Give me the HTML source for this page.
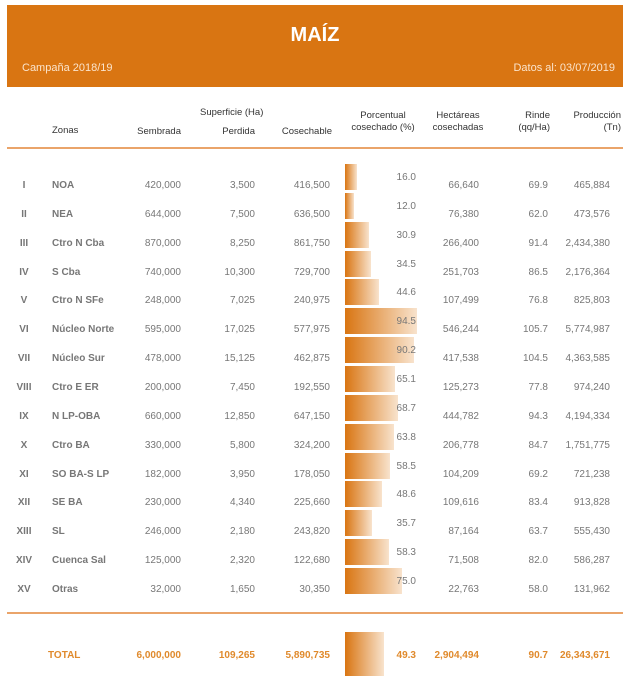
<!DOCTYPE html>
<html><head><meta charset="utf-8"><style>
body{margin:0;width:630px;height:676px;background:#fff;font-family:"Liberation Sans",Arial,sans-serif;position:relative;overflow:hidden}
.hd{position:absolute;left:7px;top:5px;width:616px;height:82px;background:#d97512;color:#fff}
.t{position:absolute;left:0;width:616px;top:19px;text-align:center;font-size:20px;font-weight:bold}
.c{position:absolute;left:15px;top:57px;font-size:11px;color:#fbe4cc}
.d{position:absolute;right:8px;top:57px;font-size:11px;color:#fbe4cc}
.h{position:absolute;font-size:9.5px;color:#333;line-height:12px}
.line{position:absolute;left:7px;width:616px;height:2px;background:#eaa46a}
.r{position:absolute;left:0;width:630px;height:26px;font-size:10px;color:#777;line-height:12px}
.r span{position:absolute;top:16px;white-space:nowrap}
.rn{left:10px;width:28px;text-align:center;font-weight:bold}
.z{left:52px;font-weight:bold}
.a{right:449px}.b{right:375px}.cc{right:300px}.p{right:214px;top:8px!important}.e{right:151px}.f{right:82px}.g{right:20px}
.bar{position:absolute;left:345px;top:0;height:26px;background:linear-gradient(to right,#d97512,#f8e3cd)}
.tot{color:#e08a2c!important;font-weight:bold}
</style></head><body>
<div class="hd"><div class="t">MAÍZ</div><div class="c">Campaña 2018/19</div><div class="d">Datos al: 03/07/2019</div></div>
<div class="h" style="left:52px;top:125px">Zonas</div>
<div class="h" style="right:449px;top:126px">Sembrada</div>
<div class="h" style="left:200px;top:107px">Superficie (Ha)</div>
<div class="h" style="right:375px;top:126px">Perdida</div>
<div class="h" style="right:298px;top:126px">Cosechable</div>
<div class="h" style="left:350px;top:110px;text-align:center;width:66px">Porcentual<br>cosechado (%)</div>
<div class="h" style="left:432px;top:110px;text-align:center;width:52px">Hectáreas<br>cosechadas</div>
<div class="h" style="right:80px;top:110px;text-align:right">Rinde<br>(qq/Ha)</div>
<div class="h" style="right:9px;top:110px;text-align:right">Producción<br>(Tn)</div>
<div class="line" style="top:147px"></div>

<div class="r" style="top:164px"><div class="bar" style="width:12px"></div><span class="rn">I</span><span class="z">NOA</span><span class="a">420,000</span><span class="b">3,500</span><span class="cc">416,500</span><span class="p">16.0</span><span class="e">66,640</span><span class="f">69.9</span><span class="g">465,884</span></div>
<div class="r" style="top:193px"><div class="bar" style="width:9px"></div><span class="rn">II</span><span class="z">NEA</span><span class="a">644,000</span><span class="b">7,500</span><span class="cc">636,500</span><span class="p">12.0</span><span class="e">76,380</span><span class="f">62.0</span><span class="g">473,576</span></div>
<div class="r" style="top:222px"><div class="bar" style="width:24px"></div><span class="rn">III</span><span class="z">Ctro N Cba</span><span class="a">870,000</span><span class="b">8,250</span><span class="cc">861,750</span><span class="p">30.9</span><span class="e">266,400</span><span class="f">91.4</span><span class="g">2,434,380</span></div>
<div class="r" style="top:251px"><div class="bar" style="width:26px"></div><span class="rn">IV</span><span class="z">S Cba</span><span class="a">740,000</span><span class="b">10,300</span><span class="cc">729,700</span><span class="p">34.5</span><span class="e">251,703</span><span class="f">86.5</span><span class="g">2,176,364</span></div>
<div class="r" style="top:279px"><div class="bar" style="width:34px"></div><span class="rn">V</span><span class="z">Ctro N SFe</span><span class="a">248,000</span><span class="b">7,025</span><span class="cc">240,975</span><span class="p">44.6</span><span class="e">107,499</span><span class="f">76.8</span><span class="g">825,803</span></div>
<div class="r" style="top:308px"><div class="bar" style="width:72px"></div><span class="rn">VI</span><span class="z">Núcleo Norte</span><span class="a">595,000</span><span class="b">17,025</span><span class="cc">577,975</span><span class="p">94.5</span><span class="e">546,244</span><span class="f">105.7</span><span class="g">5,774,987</span></div>
<div class="r" style="top:337px"><div class="bar" style="width:69px"></div><span class="rn">VII</span><span class="z">Núcleo Sur</span><span class="a">478,000</span><span class="b">15,125</span><span class="cc">462,875</span><span class="p">90.2</span><span class="e">417,538</span><span class="f">104.5</span><span class="g">4,363,585</span></div>
<div class="r" style="top:366px"><div class="bar" style="width:50px"></div><span class="rn">VIII</span><span class="z">Ctro E ER</span><span class="a">200,000</span><span class="b">7,450</span><span class="cc">192,550</span><span class="p">65.1</span><span class="e">125,273</span><span class="f">77.8</span><span class="g">974,240</span></div>
<div class="r" style="top:395px"><div class="bar" style="width:53px"></div><span class="rn">IX</span><span class="z">N LP-OBA</span><span class="a">660,000</span><span class="b">12,850</span><span class="cc">647,150</span><span class="p">68.7</span><span class="e">444,782</span><span class="f">94.3</span><span class="g">4,194,334</span></div>
<div class="r" style="top:424px"><div class="bar" style="width:49px"></div><span class="rn">X</span><span class="z">Ctro BA</span><span class="a">330,000</span><span class="b">5,800</span><span class="cc">324,200</span><span class="p">63.8</span><span class="e">206,778</span><span class="f">84.7</span><span class="g">1,751,775</span></div>
<div class="r" style="top:453px"><div class="bar" style="width:45px"></div><span class="rn">XI</span><span class="z">SO BA-S LP</span><span class="a">182,000</span><span class="b">3,950</span><span class="cc">178,050</span><span class="p">58.5</span><span class="e">104,209</span><span class="f">69.2</span><span class="g">721,238</span></div>
<div class="r" style="top:481px"><div class="bar" style="width:37px"></div><span class="rn">XII</span><span class="z">SE BA</span><span class="a">230,000</span><span class="b">4,340</span><span class="cc">225,660</span><span class="p">48.6</span><span class="e">109,616</span><span class="f">83.4</span><span class="g">913,828</span></div>
<div class="r" style="top:510px"><div class="bar" style="width:27px"></div><span class="rn">XIII</span><span class="z">SL</span><span class="a">246,000</span><span class="b">2,180</span><span class="cc">243,820</span><span class="p">35.7</span><span class="e">87,164</span><span class="f">63.7</span><span class="g">555,430</span></div>
<div class="r" style="top:539px"><div class="bar" style="width:44px"></div><span class="rn">XIV</span><span class="z">Cuenca Sal</span><span class="a">125,000</span><span class="b">2,320</span><span class="cc">122,680</span><span class="p">58.3</span><span class="e">71,508</span><span class="f">82.0</span><span class="g">586,287</span></div>
<div class="r" style="top:568px"><div class="bar" style="width:57px"></div><span class="rn">XV</span><span class="z">Otras</span><span class="a">32,000</span><span class="b">1,650</span><span class="cc">30,350</span><span class="p">75.0</span><span class="e">22,763</span><span class="f">58.0</span><span class="g">131,962</span></div>

<div class="line" style="top:612px"></div>
<div class="r tot" style="top:632px;height:44px"><div class="bar" style="width:39px;height:44px"></div><span class="z" style="left:48px;top:18px">TOTAL</span><span class="a" style="top:18px">6,000,000</span><span class="b" style="top:18px">109,265</span><span class="cc" style="top:18px">5,890,735</span><span class="p" style="top:18px!important">49.3</span><span class="e" style="top:18px">2,904,494</span><span class="f" style="top:18px">90.7</span><span class="g" style="top:18px">26,343,671</span></div>
</body></html>
